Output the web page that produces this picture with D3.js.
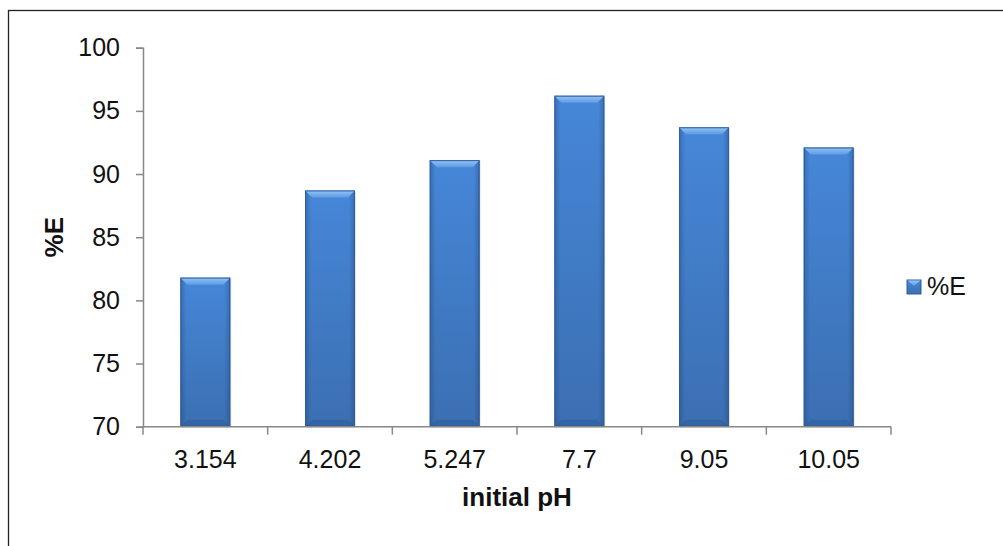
<!DOCTYPE html>
<html>
<head>
<meta charset="utf-8">
<script src="https://cdn.jsdelivr.net/npm/d3@7"></script>
<style>
body { margin:0; background:#fff; }
svg { display:block; font-family:"Liberation Sans", Arial, sans-serif; }
</style>
</head>
<body>
<svg width="1003" height="546"></svg>
<script>
var categories = ["3.154","4.202","5.247","7.7","9.05","10.05"];
var values = [81.8, 88.7, 91.1, 96.2, 93.7, 92.1];
var yTicks = [70, 75, 80, 85, 90, 95, 100];
var seriesName = "%E";

var svg = d3.select("svg");
var margin = {"top":47.7,"left":143};
var width = 748, height = 379;
var g = svg.append("g").attr("transform","translate("+margin.left+","+margin.top+")");

// outer frame (right and bottom edges run off the picture)
svg.append("rect").attr("x",8.5).attr("y",10.5).attr("width",1010).attr("height",560)
    .attr("fill","none").attr("stroke","#222").attr("stroke-width",1.3);

var defs = svg.append("defs");
var gv = defs.append("linearGradient").attr("id","barV").attr("x1",0).attr("y1",0).attr("x2",0).attr("y2",1);
gv.append("stop").attr("offset","0%").attr("stop-color","#4687d8");
gv.append("stop").attr("offset","100%").attr("stop-color","#3b6fb2");
var gh = defs.append("linearGradient").attr("id","barH").attr("x1",0).attr("y1",0).attr("x2",1).attr("y2",0);
gh.append("stop").attr("offset","0%").attr("stop-color","#1c3f70").attr("stop-opacity",0.35);
gh.append("stop").attr("offset","12%").attr("stop-color","#1c3f70").attr("stop-opacity",0);
gh.append("stop").attr("offset","88%").attr("stop-color","#1c3f70").attr("stop-opacity",0);
gh.append("stop").attr("offset","100%").attr("stop-color","#1c3f70").attr("stop-opacity",0.35);
var gt = defs.append("linearGradient").attr("id","bevTop").attr("x1",0).attr("y1",0).attr("x2",0).attr("y2",1);
gt.append("stop").attr("offset","0%").attr("stop-color","#94c6f7");
gt.append("stop").attr("offset","100%").attr("stop-color","#5d9be4");

var x = d3.scaleBand().domain(categories).range([0,width]).paddingInner(0.6).paddingOuter(0.3);
var y = d3.scaleLinear().domain([70,100]).range([height,0]);

var bars = g.selectAll(".bar").data(values).enter().append("g").attr("class","bar")
    .attr("transform",function(d,i){return "translate("+x(categories[i])+","+y(d)+")";});
var bw = x.bandwidth(), bev = 7;
bars.append("rect").attr("x",1).attr("y",1).attr("width",bw).attr("height",function(d){return height-y(d);})
    .attr("fill","#000").attr("opacity",0.12);
bars.append("rect").attr("width",bw).attr("height",function(d){return height-y(d);}).attr("fill","url(#barV)");
bars.append("rect").attr("width",bw).attr("height",function(d){return height-y(d);}).attr("fill","url(#barH)");
bars.append("path").attr("d","M0,0L"+bw+",0L"+(bw-bev)+","+bev+"L"+bev+","+bev+"Z").attr("fill","url(#bevTop)");
bars.append("path").attr("d",function(d){var h=height-y(d);return "M0,"+h+"L"+bw+","+h+"L"+(bw-bev)+","+(h-bev)+"L"+bev+","+(h-bev)+"Z";})
    .attr("fill","#2e5a94").attr("opacity",0.5);
bars.append("rect").attr("x",0.5).attr("y",0.5).attr("width",bw-1).attr("height",function(d){return height-y(d)-1;})
    .attr("fill","none").attr("stroke","#2f5d97").attr("stroke-width",1);

// axes
var yAxis = g.append("g").call(d3.axisLeft(y).tickValues(yTicks).tickSize(7).tickPadding(16));
yAxis.select(".domain").attr("stroke","#888").attr("stroke-width",1.5);
yAxis.selectAll(".tick line").attr("stroke","#888").attr("stroke-width",1.5);
yAxis.selectAll("text").attr("font-size",25).attr("fill","#111").attr("font-family","Liberation Sans, Arial, sans-serif");

var xb = d3.range(categories.length+1).map(function(i){return i*width/categories.length;});
var xAxis = g.append("g").attr("transform","translate(0,"+height+")");
xAxis.append("line").attr("x1",0).attr("x2",width).attr("stroke","#888").attr("stroke-width",1.5);
xAxis.selectAll(".xt").data(xb).enter().append("line").attr("x1",function(d){return d;}).attr("x2",function(d){return d;})
    .attr("y1",0).attr("y2",8).attr("stroke","#888").attr("stroke-width",1.5);
xAxis.selectAll(".xl").data(categories).enter().append("text")
    .attr("x",function(d){return x(d)+bw/2;}).attr("y",41).attr("text-anchor","middle")
    .attr("font-size",25).attr("fill","#111").text(function(d){return d;});

g.append("text").attr("x",width/2).attr("y",height+79).attr("text-anchor","middle")
    .attr("font-size",26).attr("font-weight","bold").attr("fill","#111").text("initial pH");
g.append("text").attr("transform","translate(-80,"+(height/2)+") rotate(-90)").attr("text-anchor","middle")
    .attr("font-size",26).attr("font-weight","bold").attr("fill","#111").text("%E");

// legend
var lg = svg.append("g").attr("transform","translate(907,280)");
lg.append("rect").attr("width",14).attr("height",14).attr("fill","url(#barV)").attr("stroke","#2f5d97");
lg.append("path").attr("d","M0.5,0.5L13.5,0.5L7,6Z").attr("fill","url(#bevTop)");
lg.append("text").attr("x",20).attr("y",15).attr("font-size",25).attr("fill","#111").text(seriesName);
</script>
</body>
</html>
